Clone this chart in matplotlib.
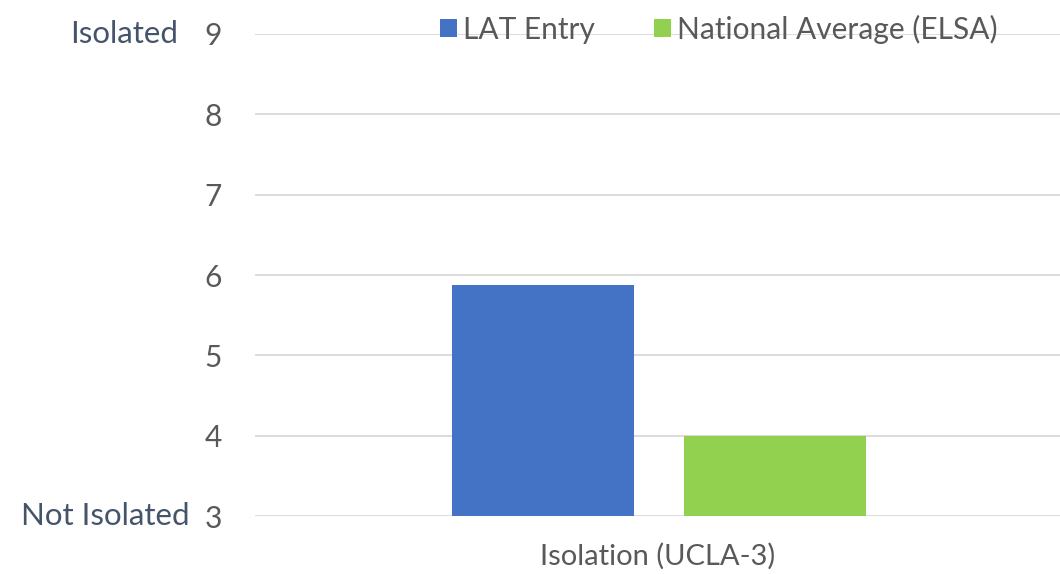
import matplotlib
matplotlib.use('Agg')
import matplotlib.pyplot as plt

# data
category = "Isolation (UCLA-3)"
series = ["LAT Entry", "National Average (ELSA)"]
values = [5.88, 4.0]
colors = ['#4472C4', '#92D050']
yticks = [3, 4, 5, 6, 7, 8, 9]

plt.rcParams['font.family'] = ['Lato', 'DejaVu Sans']

fig = plt.figure(figsize=(10.6, 5.74), dpi=100)
ax = fig.add_axes([0.2406, 0.1010, 0.7594, 0.8398])

width = 0.226
offsets = [-0.1425, 0.1455]
for s, v, c, off in zip(series, values, colors, offsets):
    ax.bar(off, v - 3, width=width, bottom=3, color=c, label=s, zorder=2)

ax.set_xlim(-0.5, 0.5)
ax.set_ylim(3, 9)
ax.set_yticks(yticks)
ax.set_xticks([0])
ax.set_xticklabels([category])
ax.tick_params(axis='y', length=0, pad=24, labelsize=21.5, labelcolor='#595959')
ax.tick_params(axis='x', length=0, pad=19, labelsize=21, labelcolor='#595959')
ax.grid(axis='y', color='#D9D9D9', linewidth=1.3, zorder=0)
for sp in ax.spines.values():
    sp.set_visible(False)

# end labels on the y axis
fig.text(178 / 1060, 1 - 34 / 574, "Isolated", ha='right', va='center',
         fontsize=22.5, color='#44546A')
fig.text(190 / 1060, 1 - 516 / 574, "Not Isolated", ha='right', va='center',
         fontsize=22.5, color='#44546A')

fig.legend(loc='center', bbox_to_anchor=(719 / 1060, 1 - 29 / 574), ncol=2,
           frameon=False, fontsize=21.5, handlelength=0.55, handleheight=0.55,
           handletextpad=0.2, columnspacing=2.0, labelcolor='#595959')

fig.savefig("out.png", dpi=100)
